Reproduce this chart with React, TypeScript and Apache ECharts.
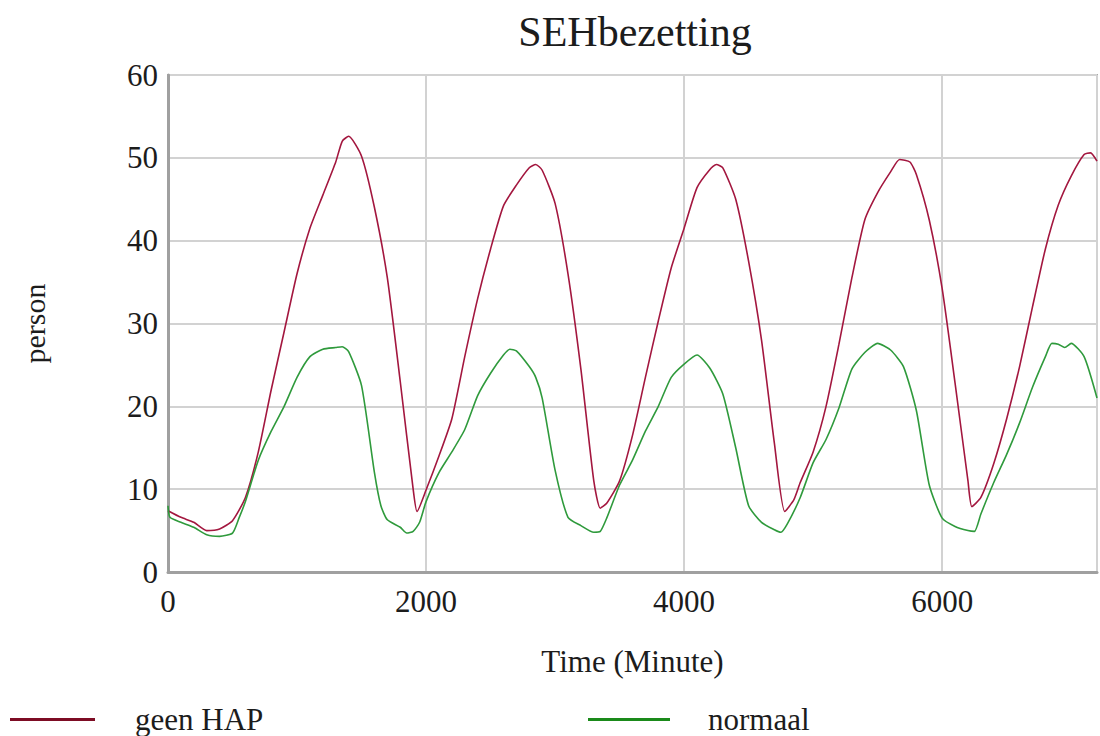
import React, { useEffect, useRef } from "react";
import * as echarts from "echarts";

const chartTitle = "SEHbezetting";
const xAxisName = "Time (Minute)";
const yAxisName = "person";
const seriesNames = ["geen HAP", "normaal"];

const timesHap = [
  0, 100, 200, 300, 400, 500, 600, 700, 800, 900, 1000, 1100, 1200, 1300, 1350, 1400, 1500, 1600, 1700, 1800,
  1900, 1930, 2000, 2100, 2200, 2300, 2400, 2500, 2600, 2700, 2800, 2850, 2900, 3000, 3100, 3200, 3300, 3350,
  3400, 3500, 3600, 3700, 3800, 3900, 4000, 4100, 4200, 4250, 4300, 4400, 4500, 4600, 4700, 4780, 4850, 4900,
  5000, 5100, 5200, 5300, 5400, 5500, 5600, 5670, 5750, 5800, 5900, 6000, 6100, 6200, 6230, 6300, 6400, 6500,
  6600, 6700, 6800, 6900, 7000, 7100, 7150, 7200,
];
const valuesHap = [
  7.4, 6.6, 6.0, 5.0, 5.2, 6.2, 9.0, 14.5, 22.0, 29.0, 36.0, 41.5, 45.5, 49.5, 52.0, 52.6, 50.2, 44.0, 35.5, 23.0,
  10.0, 7.3, 9.9, 14.0, 18.5, 26.0, 33.0, 39.0, 44.2, 46.7, 48.8, 49.2, 48.5, 44.5, 36.0, 24.5, 11.0, 7.7,
  8.3, 11.0, 16.5, 23.5, 30.3, 36.7, 41.5, 46.4, 48.6, 49.2, 48.8, 45.0, 37.5, 28.0, 15.5, 7.3, 8.7, 10.8,
  14.5, 20.0, 27.5, 35.5, 42.5, 45.8, 48.3, 49.8, 49.5, 48.0, 42.5, 34.2, 22.8, 11.0, 7.9, 9.0, 13.1, 18.5,
  24.8, 32.0, 39.0, 44.3, 47.8, 50.4, 50.6, 49.6,
];

const timesNormaal = [
  0, 15, 100, 200, 300, 400, 500, 550, 600, 700, 800, 900, 1000, 1100, 1200, 1300, 1350, 1400, 1500, 1600, 1650,
  1700, 1800, 1850, 1900, 1950, 2000, 2100, 2200, 2300, 2400, 2500, 2600, 2650, 2700, 2800, 2850, 2900, 3000,
  3100, 3200, 3300, 3350, 3400, 3500, 3600, 3700, 3800, 3900, 4000, 4100, 4200, 4300, 4400, 4500, 4600, 4700,
  4750, 4800, 4900, 5000, 5100, 5200, 5300, 5400, 5500, 5600, 5700, 5800, 5900, 6000, 6100, 6200, 6250, 6300,
  6400, 6500, 6600, 6700, 6800, 6850, 6900, 6950, 7000, 7100, 7200,
];
const valuesNormaal = [
  8.0, 6.6, 6.0, 5.4, 4.5, 4.3, 4.7, 6.5, 8.5, 13.5, 17.0, 20.0, 23.5, 26.0, 26.9, 27.1, 27.2, 26.6, 22.5, 12.0, 8.0,
  6.3, 5.4, 4.7, 4.9, 6.0, 8.5, 12.0, 14.5, 17.2, 21.3, 24.0, 26.2, 26.9, 26.7, 24.8, 23.5, 21.0, 12.3,
  6.6, 5.6, 4.8, 4.9, 6.5, 10.5, 13.5, 17.0, 20.0, 23.5, 25.1, 26.2, 24.6, 21.5, 15.0, 8.0, 6.0, 5.1,
  4.8, 5.8, 9.0, 13.2, 16.0, 19.8, 24.5, 26.5, 27.6, 26.8, 24.8, 19.5, 10.5, 6.5, 5.5, 5.0, 4.9, 7.0,
  10.8, 14.2, 18.0, 22.3, 26.0, 27.6, 27.5, 27.1, 27.6, 26.0, 21.0,
];

const xMin = 0;
const xMax = 7200;
const xInterval = 2000;
const yMin = 0;
const yMax = 60;
const yInterval = 10;

const FONT = "Liberation Serif";
const TEXT = "#1c1c1c";
const RED = "#a3173f";
const GREEN = "#2f9a3c";
const FS = 31;

export default function App() {
  const ref = useRef<HTMLDivElement>(null);
  useEffect(() => {
    document.body.style.margin = "0";
    const chart = echarts.init(ref.current!, undefined, { renderer: "svg" });
    const hap = timesHap.map((t, i) => [t, valuesHap[i]]);
    const norm = timesNormaal.map((t, i) => [t, valuesNormaal[i]]);
    chart.setOption({
      animation: false,
      backgroundColor: "#ffffff",
      textStyle: { fontFamily: FONT, color: TEXT },
      title: {
        text: chartTitle,
        left: 630,
        textAlign: "center",
        top: 6,
        textStyle: { fontFamily: FONT, fontSize: 42, fontWeight: "normal", color: TEXT },
      },
      grid: {
        left: 168,
        top: 75,
        width: 933,
        height: 497,
        show: true,
        borderColor: "#a8a8a8",
        borderWidth: 2,
        backgroundColor: "transparent",
      },
      legend: [
        {
          data: [{ name: seriesNames[0], itemStyle: { color: "#7d0c24" } }],
          left: 10,
          top: 704,
          padding: 0,
          icon: "rect",
          itemWidth: 85,
          itemHeight: 3,
          textStyle: { fontFamily: FONT, fontSize: FS, color: TEXT, padding: [0, 0, 0, 35] },
        },
        {
          data: [{ name: seriesNames[1], itemStyle: { color: "#1a8a1a" } }],
          left: 588,
          top: 704,
          padding: 0,
          icon: "rect",
          itemWidth: 82,
          itemHeight: 3,
          textStyle: { fontFamily: FONT, fontSize: FS, color: TEXT, padding: [0, 0, 0, 33] },
        },
      ],
      xAxis: {
        type: "value",
        min: xMin,
        max: xMax,
        interval: xInterval,
        name: xAxisName,
        nameLocation: "middle",
        nameGap: 74,
        nameTextStyle: { fontFamily: FONT, fontSize: FS, color: TEXT },
        axisLine: { show: true, lineStyle: { color: "#a0a0a0", width: 3 } },
        axisTick: { show: false },
        axisLabel: {
          fontFamily: FONT,
          fontSize: FS,
          color: TEXT,
          margin: 14,
          formatter: (v: number) => (v % xInterval === 0 ? String(v) : ""),
        },
        splitLine: { show: true, lineStyle: { color: "#d2d2d2", width: 2 } },
      },
      yAxis: {
        type: "value",
        min: yMin,
        max: yMax,
        interval: yInterval,
        name: yAxisName,
        nameLocation: "middle",
        nameGap: 119,
        nameRotate: 90,
        nameTextStyle: { fontFamily: FONT, fontSize: 30, color: TEXT },
        axisLine: { show: true, lineStyle: { color: "#a0a0a0", width: 3 } },
        axisTick: { show: false },
        axisLabel: { fontFamily: FONT, fontSize: FS, color: TEXT, margin: 10 },
        splitLine: { show: true, lineStyle: { color: "#d2d2d2", width: 2 } },
      },
      series: [
        {
          name: seriesNames[0],
          type: "line",
          data: hap,
          showSymbol: false,
          smooth: 0.2,
          lineStyle: { color: RED, width: 1.6 },
          itemStyle: { color: RED },
        },
        {
          name: seriesNames[1],
          type: "line",
          data: norm,
          showSymbol: false,
          smooth: 0.2,
          lineStyle: { color: GREEN, width: 1.6 },
          itemStyle: { color: GREEN },
        },
      ],
    });
    return () => chart.dispose();
  }, []);
  return <div ref={ref} style={{ width: 1100, height: 736 }} />;
}
